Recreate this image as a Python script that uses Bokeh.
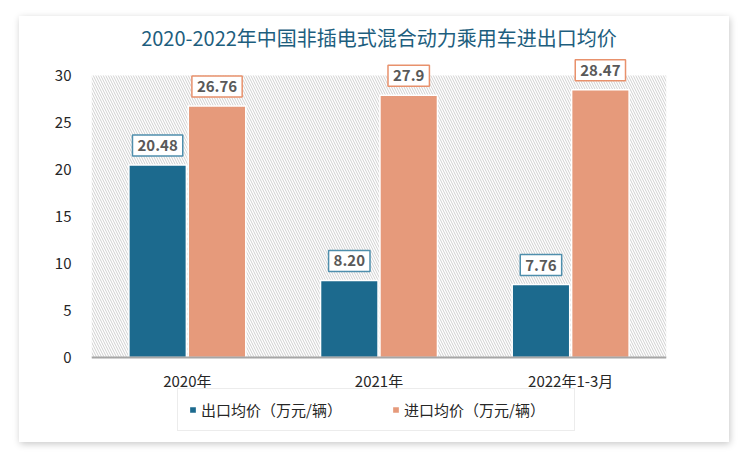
from bokeh.plotting import figure
from bokeh.models import ColumnDataSource, BoxAnnotation, Legend, LegendItem, Title, Span
from bokeh.core.properties import value
from bokeh.transform import dodge
from bokeh.embed import file_html
from bokeh.resources import INLINE

years = ["2020年", "2021年", "2022年1-3月"]
export_price = [20.48, 8.20, 7.76]
import_price = [26.76, 27.9, 28.47]
series_names = ["出口均价（万元/辆）", "进口均价（万元/辆）"]
title_text = "2020-2022年中国非插电式混合动力乘用车进出口均价"
y_ticks = [0, 5, 10, 15, 20, 25, 30]

BLUE = "#1C6A8E"
ORANGE = "#E69A7B"
FONT = "Noto Sans CJK SC"

src = ColumnDataSource(dict(
    year=years,
    exp=export_price,
    imp=import_price,
    exp_lbl=[f"{v:.2f}" for v in export_price],
    imp_lbl=[f"{v:g}" for v in import_price],
    zero=[0] * len(years),
))

p = figure(x_range=years, y_range=(-9.04, 32.55), frame_width=575, frame_height=391,
           output_backend="svg", toolbar_location=None,
           min_border_left=72, min_border_right=63, min_border_top=35, min_border_bottom=0)
p.margin = (16, 0, 0, 19)
p.styles = {"box-shadow": "1px 2px 7px rgba(0,0,0,0.22)"}
p.outline_line_color = None
p.background_fill_color = "white"
p.border_fill_color = "white"

p.add_layout(Title(text=title_text, align="center", text_font=FONT, text_font_size="20px",
                   text_font_style="normal", text_color="#1D5E7E", standoff=0), "above")

hatch = BoxAnnotation(bottom=0, top=y_ticks[-1], fill_color="white", fill_alpha=1, line_color=None,
                      hatch_pattern="\\", hatch_color="#CFCFCF", hatch_scale=5,
                      hatch_weight=1, level="underlay")
p.add_layout(hatch)

r1 = p.vbar(x=dodge("year", -0.155, range=p.x_range), top="exp", width=0.3, source=src,
            fill_color=BLUE, line_color="white", line_width=1.5)
r2 = p.vbar(x=dodge("year", 0.155, range=p.x_range), top="imp", width=0.3, source=src,
            fill_color=ORANGE, line_color="white", line_width=1.5)

# baseline
p.add_layout(Span(location=0, dimension="width", line_color="#A6A6A6", line_width=2))

# category labels under the baseline
p.text(x="year", y="zero", text="year", source=src, text_align="center",
       text_baseline="middle", y_offset=23, text_font=value(FONT),
       text_font_size="15px", text_color="#262626")

for fld, lbl, off, col in [("exp", "exp_lbl", -0.155, "#4F8FAD"), ("imp", "imp_lbl", 0.155, "#E8916C")]:
    p.text(x=dodge("year", off, range=p.x_range), y=fld, text=lbl, source=src,
           text_align="center", text_baseline="bottom", y_offset=-9,
           text_font=value(FONT), text_font_size="15px", text_font_style="bold",
           text_color="#595959", background_fill_color="white",
           border_line_color=col, border_line_width=1.5, padding=5)

p.xgrid.grid_line_color = None
p.ygrid.grid_line_color = None
p.xaxis.visible = False

p.yaxis.axis_line_color = None
p.yaxis.major_tick_line_color = None
p.yaxis.minor_tick_line_color = None
p.yaxis.ticker = y_ticks
p.yaxis.major_label_text_font = FONT
p.yaxis.major_label_text_font_size = "15px"
p.yaxis.major_label_text_color = "#262626"
p.yaxis.major_label_standoff = 14

legend = Legend(items=[LegendItem(label=series_names[0], renderers=[r1]),
                       LegendItem(label=series_names[1], renderers=[r2])],
                orientation="horizontal", location=(86, 11),
                label_text_font=FONT, label_text_font_size="15px", label_text_color="#262626",
                glyph_width=9, glyph_height=9, spacing=30, padding=10, margin=0,
                label_width=160, label_height=15,
                border_line_color="#D9D9D9", border_line_width=1.5,
                background_fill_color="white", label_standoff=4)
p.add_layout(legend)

open("out.html", "w").write(file_html(p, INLINE))
